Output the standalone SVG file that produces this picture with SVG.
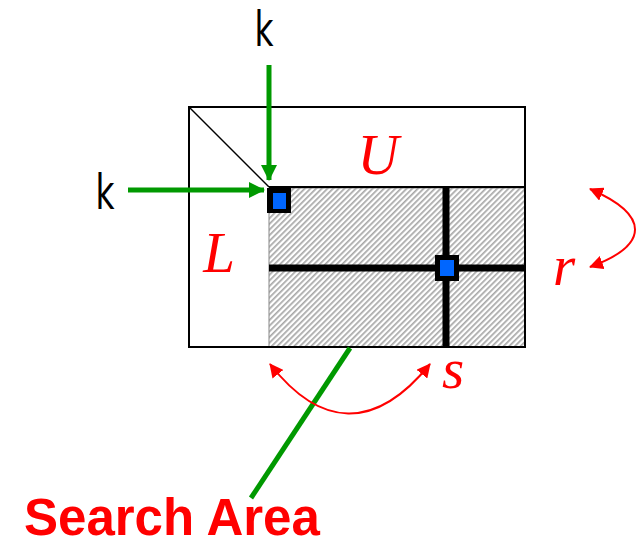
<svg xmlns="http://www.w3.org/2000/svg" width="636" height="546" viewBox="0 0 636 546">
<defs>
<pattern id="hatch" patternUnits="userSpaceOnUse" width="4" height="4" patternTransform="rotate(45)">
<rect width="4" height="4" fill="#ffffff"/>
<rect x="0" y="0" width="1.7" height="4" fill="#a8a8a8"/>
</pattern>
<marker id="ga" markerUnits="userSpaceOnUse" markerWidth="16" markerHeight="16" viewBox="0 0 16 16" refX="15" refY="8" orient="auto">
<path d="M0,0 L16,8 L0,16 Z" fill="#009900"/>
</marker>
<marker id="ra" markerUnits="userSpaceOnUse" markerWidth="14" markerHeight="14" viewBox="0 0 14 14" refX="13" refY="7" orient="auto-start-reverse">
<path d="M0,0 L14,7 L0,14 Z" fill="#ff0000"/>
</marker>
<style>
.it{font-family:"Liberation Serif","Times New Roman",serif;font-style:italic;font-size:57px;fill:#ff0000}
.k{font-family:"DejaVu Sans","Liberation Sans",sans-serif;font-size:48px;fill:#000}
.g{stroke:#009900;stroke-width:5;fill:none}
.r{stroke:#ff0000;stroke-width:2;fill:none}
</style>
</defs>
<g id="matrix">
<rect x="189" y="107" width="336" height="240" fill="#fff" stroke="#000" stroke-width="2"/>
<rect id="search-area" x="269" y="188" width="256" height="159" fill="url(#hatch)" stroke="#888" stroke-width="1"/>
<line x1="269" y1="187" x2="525" y2="187" stroke="#000" stroke-width="2"/>
<rect x="189" y="107" width="336" height="240" fill="none" stroke="#000" stroke-width="2"/>
<line x1="189" y1="107" x2="269" y2="187" stroke="#000" stroke-width="1.5"/>
<line x1="269" y1="268" x2="525" y2="268" stroke="#000" stroke-width="7"/>
<line x1="446" y1="187" x2="446" y2="347" stroke="#000" stroke-width="7"/>
</g>
<g id="pivot1">
<rect x="267" y="188" width="24" height="25" fill="#000"/>
<rect x="273" y="193" width="13" height="16" fill="#0066ff"/>
</g>
<g id="pivot2">
<rect x="435" y="255" width="24" height="26" fill="#000"/>
<rect x="440" y="260" width="14" height="16" fill="#0066ff"/>
</g>
<g id="labels">
<text class="it" x="378" y="174" text-anchor="middle">U</text>
<text class="it" x="219" y="272" text-anchor="middle">L</text>
<text class="it" x="564" y="285" text-anchor="middle">r</text>
<text class="it" x="453" y="388" text-anchor="middle">s</text>
<text class="k" x="264" y="46" text-anchor="middle" textLength="19" lengthAdjust="spacingAndGlyphs">k</text>
<text class="k" x="105" y="209" text-anchor="middle" textLength="19" lengthAdjust="spacingAndGlyphs">k</text>
<text x="24" y="535" font-family="'Liberation Sans',Arial,sans-serif" font-weight="bold" font-size="51" fill="#ff0000">Search Area</text>
</g>
<g id="connectors">
<line class="g" x1="269" y1="65" x2="269" y2="180" marker-end="url(#ga)"/>
<line class="g" x1="128" y1="190" x2="264" y2="190" marker-end="url(#ga)"/>
<line class="g" x1="350" y1="348" x2="251" y2="498"/>
<path class="r" d="M590,189 C650,215 650,245 590,267" marker-start="url(#ra)" marker-end="url(#ra)"/>
<path class="r" d="M270,364 C320,428 375,432 430,364" marker-start="url(#ra)" marker-end="url(#ra)"/>
</g>
</svg>
